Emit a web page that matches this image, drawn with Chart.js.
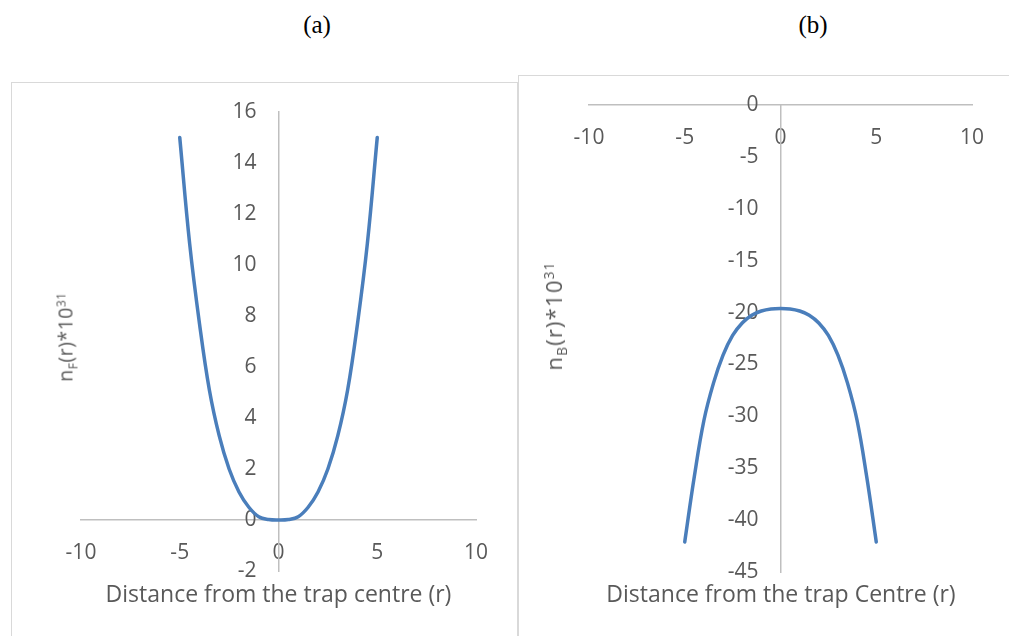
<!DOCTYPE html>
<html>
<head>
<meta charset="utf-8">
<script src="https://cdn.jsdelivr.net/npm/chart.js@4"></script>
<style>
  html, body { margin: 0; padding: 0; background: #fff; width: 1009px; height: 636px; overflow: hidden; }
  .panel { position: absolute; border: 1.5px solid #d9d9d9; box-sizing: border-box; background: #fff; }
  .title { position: absolute; transform: translate(-50%, -50%); white-space: nowrap; color: #595959; font-family: "Open Sans", sans-serif; }
  .ytitle { position: absolute; transform: translate(-50%, -50%) rotate(-90deg); white-space: nowrap; color: #595959; font-family: "Open Sans", sans-serif; }
  .ytitle sub, .ytitle sup { font-size: 62%; line-height: 0; }
  .cap { position: absolute; transform: translate(-50%, -50%); font-family: "Liberation Serif", "Times New Roman", serif; font-size: 25px; color: #000; }
  canvas { position: absolute; }
</style>
</head>
<body>
<div class="cap" style="left:317px; top:25px;">(a)</div>
<div class="cap" style="left:813px; top:25px;">(b)</div>

<div class="panel" style="left:11px; top:82px; width:507px; height:600px;"></div>
<div class="panel" style="left:518px; top:75px; width:520px; height:600px;"></div>

<canvas id="ca" width="517" height="636" style="left:0px; top:0px;"></canvas>
<canvas id="cb" width="490" height="636" style="left:519px; top:0px;"></canvas>

<div class="title" style="left:278.5px; top:593px; font-size:23px;">Distance from the trap centre (r)</div>
<div class="title" style="left:781px; top:593px; font-size:23px;">Distance from the trap Centre (r)</div>
<div class="ytitle" style="left:65px; top:337px; font-size:19.5px; letter-spacing:0.5px;">n<sub>F</sub>(r)*10<sup>31</sup></div>
<div class="ytitle" style="left:553px; top:316px; font-size:22px; letter-spacing:1.2px;">n<sub>B</sub>(r)*10<sup>31</sup></div>

<script>
// ---- data ----
const rValues = [-5, -4.5, -4, -3.5, -3, -2.5, -2, -1.5, -1, -0.5, 0, 0.5, 1, 1.5, 2, 2.5, 3, 3.5, 4, 4.5, 5];
const nF = [15.0, 10.85, 7.7, 5.1, 3.3, 2.0, 1.1, 0.5, 0.13, 0.02, 0, 0.02, 0.13, 0.5, 1.1, 2.0, 3.3, 5.1, 7.7, 10.85, 15.0];
const nB = [-42.1, -35.8, -30.4, -26.8, -24.1, -22.2, -21.0, -20.25, -19.85, -19.65, -19.6, -19.65, -19.85, -20.25, -21.0, -22.2, -24.1, -26.8, -30.4, -35.8, -42.1];

const xAxisA = { min: -10, max: 10, step: 5 };
const yAxisA = { min: -2, max: 16, step: 2 };
const xAxisB = { min: -10, max: 10, step: 5 };
const yAxisB = { min: -45, max: 0, step: 5 };

const LINE_COLOR = '#4a7ebb';
const AXIS_COLOR = '#bfbfbf';
const TICK_COLOR = '#595959';
const TICK_FONT = { family: '"Open Sans", sans-serif', size: 21 };

// plugin: place y tick labels a fixed gap left of the vertical axis line (which sits at x = 0)
const yLabelGap = {
  id: 'yLabelGap',
  beforeDraw(chart, args, opts) {
    const ys = chart.scales.y, xs = chart.scales.x;
    const ax = xs.getPixelForValue(0);
    const items = ys.getLabelItems(chart.chartArea);
    items.forEach(it => {
      it.options.translation = [ax - opts.gap, it.options.translation[1]];
      it.options.textAlign = 'right';
    });
  }
};

function makeChart(id, values, xr, yr, padding) {
  const pts = rValues.map((r, i) => ({ x: r, y: values[i] }));
  return new Chart(document.getElementById(id), {
    type: 'line',
    data: {
      datasets: [{
        data: pts,
        borderColor: LINE_COLOR,
        borderWidth: 3.5,
        borderCapStyle: 'round',
        borderJoinStyle: 'round',
        pointRadius: 0,
        fill: false,
        tension: 0.4
      }]
    },
    options: {
      responsive: false,
      animation: false,
      devicePixelRatio: 1,
      layout: { padding: padding },
      plugins: {
        legend: { display: false },
        tooltip: { enabled: false },
        yLabelGap: { gap: 22 }
      },
      scales: {
        x: {
          type: 'linear',
          position: { y: 0 },
          min: xr.min, max: xr.max,
          grid: { display: false, drawTicks: false },
          border: { display: true, color: AXIS_COLOR, width: 1.5 },
          ticks: { stepSize: xr.step, color: TICK_COLOR, font: TICK_FONT, padding: 20, maxRotation: 0 }
        },
        y: {
          type: 'linear',
          position: { x: 0 },
          min: yr.min, max: yr.max,
          grid: { display: false, drawTicks: false },
          border: { display: true, color: AXIS_COLOR, width: 1.5 },
          ticks: { stepSize: yr.step, color: TICK_COLOR, font: TICK_FONT, padding: 0 }
        }
      }
    },
    plugins: [yLabelGap]
  });
}

// chart area (a): x 81..476, y 112..571 ; canvas at (0,0) 517x636
makeChart('ca', nF, xAxisA, yAxisA, { left: 81, right: 41, top: 112, bottom: 65 });
// chart area (b): x 589..972, y 105..572 ; canvas at (519,0) 490x636
makeChart('cb', nB, xAxisB, yAxisB, { left: 70, right: 37, top: 105, bottom: 64 });
</script>
</body>
</html>
